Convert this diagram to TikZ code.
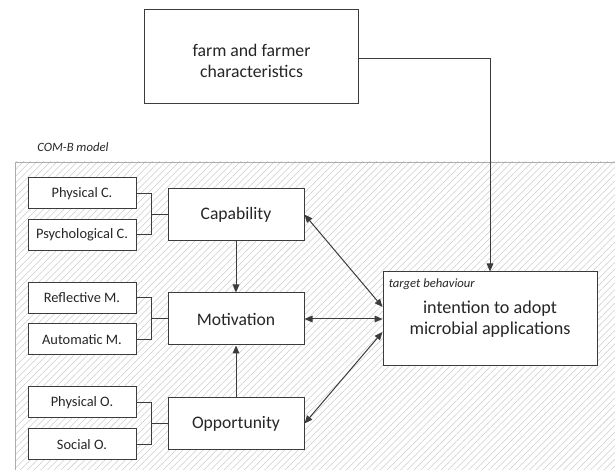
\documentclass[tikz,border=0pt]{standalone}
\usepackage{fontspec}
\setmainfont{Carlito}
\usetikzlibrary{arrows.meta,patterns.meta,calc}
\definecolor{ln}{HTML}{3C3C3C}
\definecolor{hatch}{HTML}{CCCCCC}
\begin{document}
\begin{tikzpicture}[x=0.75pt,y=-0.75pt,
  every node/.style={inner sep=0pt},
  box/.style={draw=ln,line width=0.75pt,fill=white,align=center,text=black!85},
  small/.style={box,minimum width=81pt,minimum height=23.25pt,font=\fontsize{10.8}{12}\selectfont},
  mainbox/.style={box,minimum width=102pt,minimum height=39pt,font=\fontsize{13.2}{15}\selectfont},
  big/.style={box,minimum width=160pt,minimum height=70.5pt},
  bigtext/.style={align=center,text=black!85,font=\fontsize{13.3}{16}\selectfont},
  note/.style={anchor=west,font=\fontsize{9.5}{11}\selectfont\itshape,text=black!85},
  conn/.style={draw=ln,line width=0.75pt},
  arr/.style={conn,-{Triangle[length=6pt,width=5pt]}},
  darr/.style={conn,{Triangle[length=6pt,width=5pt]}-{Triangle[length=6pt,width=5pt]}}]
\useasboundingbox (0,0) rectangle (615,470);
% COM-B region
\fill[pattern={Lines[angle=45,distance=3.6pt,line width=0.4pt]},pattern color=hatch] (15,162) rectangle (617,472);
\draw[draw=hatch!85!black,line width=0.6pt] (617,162) -- (15,162) -- (15,472);
\node[note] (comb) at (37,147) {COM-B model};
% nodes
\node[big] (farm) at (251.5,57) {};
\node[bigtext] (farmtext) at (251.5,61) {farm and farmer\\characteristics};
\node[small] (pc) at (82,193.5) {Physical C.};
\node[small] (psc) at (82,235) {Psychological C.};
\node[small] (rm) at (82,298) {Reflective M.};
\node[small] (am) at (82,339.5) {Automatic M.};
\node[small] (po) at (82,402.5) {Physical O.};
\node[small] (so) at (82,444.5) {Social O.};
\node[mainbox] (cap) at (236,214.5) {Capability};
\node[mainbox] (mot) at (236,319) {Motivation};
\node[mainbox] (opp) at (236,423.5) {Opportunity};
\node[big,minimum width=160.5pt] (tgt) at (490,319) {};
\node[bigtext,font=\fontsize{13.6}{16}\selectfont] (tgttext) at (490,319) {intention to adopt\\microbial applications};
\node[note] (tb) at ($(tgt.north west)+(6,13)$) {target behaviour};
% brackets
\foreach \a/\m in {pc/cap,psc/cap,rm/mot,am/mot,po/opp,so/opp}{
  \draw[conn] (\a.east) -- ++(15,0) |- (\m.west);
}
% arrows
\draw[arr] (cap.south) -- (mot.north);
\draw[arr] (opp.north) -- (mot.south);
\draw[darr] (cap.east) -- ($(tgt.west)+(0,-12)$);
\draw[darr] (mot.east) -- (tgt.west);
\draw[darr] (opp.east) -- ($(tgt.west)+(0,13)$);
\draw[arr] ($(farm.east)+(0,2)$) -| (tgt.north);
\end{tikzpicture}
\end{document}
